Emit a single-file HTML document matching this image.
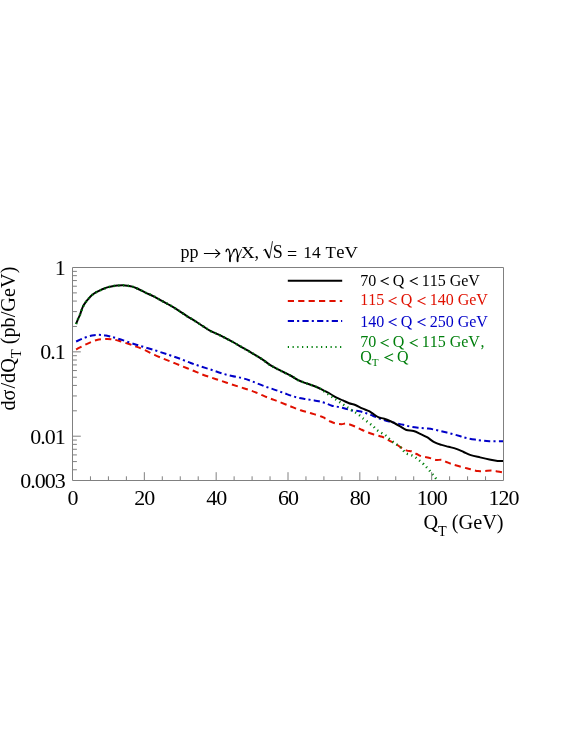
<!DOCTYPE html><html><head><meta charset="utf-8"><title>chart</title>
<style>html,body{margin:0;padding:0;background:#fff}svg{display:block;will-change:transform}text{font-family:"Liberation Serif",serif;font-kerning:none;}</style></head><body>
<svg width="581" height="752" viewBox="0 0 581 752">
<rect width="581" height="752" fill="#fff"/>
<clipPath id="c"><rect x="72.5" y="267.5" width="431.0" height="213.0"/></clipPath>
<g clip-path="url(#c)" fill="none" stroke-linejoin="round">
<path d="M76.10,349.50 C77.72,348.65 82.35,345.98 85.80,344.40 C89.25,342.82 93.37,340.92 96.80,340.00 C100.23,339.08 103.65,338.98 106.40,338.90 C109.15,338.82 111.00,339.12 113.30,339.50 C115.60,339.88 117.45,340.40 120.20,341.20 C122.95,342.00 127.00,343.35 129.80,344.30 C132.60,345.25 134.47,345.92 137.00,346.90 C139.53,347.88 142.08,348.88 145.00,350.20 C147.92,351.52 151.35,353.35 154.50,354.80 C157.65,356.25 160.75,357.58 163.90,358.90 C167.05,360.22 170.23,361.43 173.40,362.70 C176.57,363.97 179.75,365.23 182.90,366.50 C186.05,367.77 189.15,369.00 192.30,370.30 C195.45,371.60 198.63,373.08 201.80,374.30 C204.97,375.52 208.15,376.53 211.30,377.60 C214.45,378.67 217.55,379.65 220.70,380.70 C223.85,381.75 227.03,382.85 230.20,383.90 C233.37,384.95 236.55,386.00 239.70,387.00 C242.85,388.00 246.23,388.92 249.10,389.90 C251.97,390.88 254.45,391.90 256.90,392.90 C259.35,393.90 261.50,394.93 263.80,395.90 C266.10,396.87 268.42,397.82 270.70,398.70 C272.98,399.58 274.98,400.23 277.50,401.20 C280.02,402.17 283.67,403.67 285.80,404.50 C287.93,405.33 287.82,405.23 290.30,406.20 C292.78,407.17 297.25,409.13 300.70,410.30 C304.15,411.47 307.57,412.17 311.00,413.20 C314.43,414.23 318.97,415.65 321.30,416.50 C323.63,417.35 323.47,417.47 325.00,418.30 C326.53,419.13 328.67,420.62 330.50,421.50 C332.33,422.38 334.17,423.15 336.00,423.60 C337.83,424.05 339.88,424.20 341.50,424.20 C343.12,424.20 344.20,423.52 345.70,423.60 C347.20,423.68 348.90,424.20 350.50,424.70 C352.10,425.20 353.58,425.83 355.30,426.60 C357.02,427.37 358.97,428.43 360.80,429.30 C362.63,430.17 364.23,430.97 366.30,431.80 C368.37,432.63 370.90,433.57 373.20,434.30 C375.50,435.03 378.27,435.65 380.10,436.20 C381.93,436.75 382.60,436.83 384.20,437.60 C385.80,438.37 388.10,439.93 389.70,440.80 C391.30,441.67 392.40,442.02 393.80,442.80 C395.20,443.58 396.62,444.53 398.10,445.50 C399.58,446.47 401.23,447.75 402.70,448.60 C404.17,449.45 405.35,450.13 406.90,450.60 C408.45,451.07 410.37,450.83 412.00,451.40 C413.63,451.97 415.15,453.18 416.70,454.00 C418.25,454.82 419.67,455.75 421.30,456.30 C422.93,456.85 424.87,456.95 426.50,457.30 C428.13,457.65 429.47,457.97 431.10,458.40 C432.73,458.83 434.48,459.65 436.30,459.90 C438.12,460.15 440.28,459.55 442.00,459.90 C443.72,460.25 444.97,461.30 446.60,462.00 C448.23,462.70 449.83,463.43 451.80,464.10 C453.77,464.77 455.92,465.30 458.40,466.00 C460.88,466.70 464.47,467.70 466.70,468.30 C468.93,468.90 469.92,469.13 471.80,469.60 C473.68,470.07 475.93,470.85 478.00,471.10 C480.07,471.35 481.97,471.18 484.20,471.10 C486.43,471.02 489.17,470.55 491.40,470.60 C493.63,470.65 495.58,471.08 497.60,471.40 C499.62,471.72 502.52,472.32 503.50,472.50" stroke="#e01000" stroke-width="2" stroke-dasharray="6.2 4.2"/>
<path d="M76.10,341.50 C77.58,340.85 82.35,338.60 85.00,337.60 C87.65,336.60 89.80,335.97 92.00,335.50 C94.20,335.03 95.87,334.78 98.20,334.80 C100.53,334.82 102.82,335.00 106.00,335.60 C109.18,336.20 112.25,336.88 117.30,338.40 C122.35,339.92 129.98,342.70 136.30,344.70 C142.62,346.70 149.58,348.63 155.20,350.40 C160.82,352.17 165.82,353.88 170.00,355.30 C174.18,356.72 176.85,357.62 180.30,358.90 C183.75,360.18 187.25,361.73 190.70,363.00 C194.15,364.27 197.57,365.37 201.00,366.50 C204.43,367.63 207.87,368.67 211.30,369.80 C214.73,370.93 218.15,372.27 221.60,373.30 C225.05,374.33 228.55,375.20 232.00,376.00 C235.45,376.80 239.30,377.35 242.30,378.10 C245.30,378.85 247.57,379.63 250.00,380.50 C252.43,381.37 254.60,382.38 256.90,383.30 C259.20,384.22 261.50,385.15 263.80,386.00 C266.10,386.85 268.42,387.62 270.70,388.40 C272.98,389.18 275.22,389.90 277.50,390.70 C279.78,391.50 282.10,392.37 284.40,393.20 C286.70,394.03 289.00,394.95 291.30,395.70 C293.60,396.45 295.90,397.15 298.20,397.70 C300.50,398.25 302.80,398.60 305.10,399.00 C307.40,399.40 309.72,399.73 312.00,400.10 C314.28,400.47 316.63,400.72 318.80,401.20 C320.97,401.68 322.82,402.25 325.00,403.00 C327.18,403.75 329.60,405.03 331.90,405.70 C334.20,406.37 336.50,406.50 338.80,407.00 C341.10,407.50 343.42,408.12 345.70,408.70 C347.98,409.28 350.22,410.08 352.50,410.50 C354.78,410.92 357.10,410.75 359.40,411.20 C361.70,411.65 364.00,412.40 366.30,413.20 C368.60,414.00 370.90,415.08 373.20,416.00 C375.50,416.92 377.80,417.85 380.10,418.70 C382.40,419.55 384.52,420.40 387.00,421.10 C389.48,421.80 392.28,422.28 395.00,422.90 C397.72,423.52 400.55,424.13 403.30,424.80 C406.05,425.47 408.75,426.38 411.50,426.90 C414.25,427.42 417.05,427.62 419.80,427.90 C422.55,428.18 425.25,428.25 428.00,428.60 C430.75,428.95 433.53,429.43 436.30,430.00 C439.07,430.57 441.85,431.32 444.60,432.00 C447.35,432.68 450.15,433.38 452.80,434.10 C455.45,434.82 458.18,435.63 460.50,436.30 C462.82,436.97 464.30,437.55 466.70,438.10 C469.10,438.65 472.50,439.22 474.90,439.60 C477.30,439.98 478.68,440.13 481.10,440.40 C483.52,440.67 485.67,441.07 489.40,441.20 C493.13,441.33 501.15,441.20 503.50,441.20" stroke="#0000c8" stroke-width="2" stroke-dasharray="6.2 3.1 2.1 3.25"/>
<path d="M76.10,324.00 C76.38,323.27 77.17,321.08 77.80,319.60 C78.42,318.12 79.28,316.50 79.85,315.10 C80.42,313.70 80.68,312.62 81.20,311.20 C81.72,309.78 82.20,308.10 82.95,306.60 C83.70,305.10 84.73,303.57 85.70,302.20 C86.67,300.83 87.75,299.58 88.80,298.40 C89.85,297.22 90.82,296.10 92.00,295.10 C93.18,294.10 94.57,293.19 95.90,292.40 C97.23,291.61 98.60,291.00 100.00,290.35 C101.40,289.70 102.92,289.03 104.30,288.50 C105.68,287.97 106.72,287.58 108.30,287.15 C109.88,286.72 112.20,286.17 113.80,285.90 C115.40,285.62 116.42,285.60 117.90,285.50 C119.38,285.40 121.10,285.27 122.70,285.30 C124.30,285.33 125.88,285.48 127.50,285.70 C129.12,285.92 130.78,286.13 132.40,286.60 C134.02,287.07 135.03,287.50 137.20,288.50 C139.37,289.50 142.65,291.30 145.40,292.60 C148.15,293.90 150.93,294.92 153.70,296.30 C156.47,297.68 159.25,299.38 162.00,300.90 C164.75,302.42 167.48,303.83 170.20,305.40 C172.92,306.97 175.58,308.57 178.30,310.30 C181.02,312.03 183.75,314.03 186.50,315.80 C189.25,317.57 192.05,319.17 194.80,320.90 C197.55,322.63 200.48,324.58 203.00,326.20 C205.52,327.82 207.37,329.23 209.90,330.60 C212.43,331.97 215.43,333.07 218.20,334.40 C220.97,335.73 223.75,337.17 226.50,338.60 C229.25,340.03 231.95,341.45 234.70,343.00 C237.45,344.55 240.45,346.43 243.00,347.90 C245.55,349.37 247.68,350.45 250.00,351.80 C252.32,353.15 254.60,354.57 256.90,356.00 C259.20,357.43 261.50,358.83 263.80,360.40 C266.10,361.97 268.42,363.95 270.70,365.40 C272.98,366.85 275.22,367.92 277.50,369.10 C279.78,370.28 282.10,371.35 284.40,372.50 C286.70,373.65 289.00,374.73 291.30,376.00 C293.60,377.27 295.90,378.95 298.20,380.10 C300.50,381.25 302.80,382.05 305.10,382.90 C307.40,383.75 309.72,384.35 312.00,385.20 C314.28,386.05 316.73,387.07 318.80,388.00 C320.87,388.93 322.45,389.80 324.40,390.80 C326.35,391.80 328.57,392.90 330.50,394.00 C332.43,395.10 333.93,396.33 336.00,397.40 C338.07,398.47 340.72,399.43 342.90,400.40 C345.08,401.37 347.03,402.43 349.10,403.20 C351.17,403.97 353.12,404.13 355.30,405.00 C357.48,405.87 359.90,407.37 362.20,408.40 C364.50,409.43 367.27,410.28 369.10,411.20 C370.93,412.12 371.60,412.87 373.20,413.90 C374.80,414.93 376.87,416.60 378.70,417.40 C380.53,418.20 382.13,418.02 384.20,418.70 C386.27,419.38 389.30,420.70 391.10,421.50 C392.90,422.30 393.48,422.68 395.00,423.50 C396.52,424.32 398.30,425.32 400.20,426.40 C402.10,427.48 404.17,429.23 406.40,430.00 C408.63,430.77 411.20,430.32 413.60,431.00 C416.00,431.68 418.57,433.07 420.80,434.10 C423.03,435.13 424.77,435.87 427.00,437.20 C429.23,438.53 431.78,440.82 434.20,442.10 C436.62,443.38 439.08,444.12 441.50,444.90 C443.92,445.68 446.23,446.13 448.70,446.80 C451.17,447.47 453.82,448.03 456.30,448.90 C458.78,449.77 461.18,450.97 463.60,452.00 C466.02,453.03 468.05,454.20 470.80,455.10 C473.55,456.00 477.00,456.67 480.10,457.40 C483.20,458.13 486.48,458.90 489.40,459.50 C492.32,460.10 495.25,460.75 497.60,461.00 C499.95,461.25 502.52,461.00 503.50,461.00" stroke="#000" stroke-width="2"/>
<path d="M76.10,324.00 C76.38,323.27 77.17,321.08 77.80,319.60 C78.42,318.12 79.28,316.50 79.85,315.10 C80.42,313.70 80.68,312.62 81.20,311.20 C81.72,309.78 82.20,308.10 82.95,306.60 C83.70,305.10 84.73,303.57 85.70,302.20 C86.67,300.83 87.75,299.58 88.80,298.40 C89.85,297.22 90.82,296.10 92.00,295.10 C93.18,294.10 94.57,293.19 95.90,292.40 C97.23,291.61 98.60,291.00 100.00,290.35 C101.40,289.70 102.92,289.03 104.30,288.50 C105.68,287.97 106.72,287.58 108.30,287.15 C109.88,286.72 112.20,286.17 113.80,285.90 C115.40,285.62 116.42,285.60 117.90,285.50 C119.38,285.40 121.10,285.27 122.70,285.30 C124.30,285.33 125.88,285.48 127.50,285.70 C129.12,285.92 130.78,286.13 132.40,286.60 C134.02,287.07 135.03,287.50 137.20,288.50 C139.37,289.50 142.65,291.30 145.40,292.60 C148.15,293.90 150.93,294.92 153.70,296.30 C156.47,297.68 159.25,299.38 162.00,300.90 C164.75,302.42 167.48,303.83 170.20,305.40 C172.92,306.97 175.58,308.57 178.30,310.30 C181.02,312.03 183.75,314.03 186.50,315.80 C189.25,317.57 192.05,319.17 194.80,320.90 C197.55,322.63 200.48,324.58 203.00,326.20 C205.52,327.82 207.37,329.23 209.90,330.60 C212.43,331.97 215.43,333.07 218.20,334.40 C220.97,335.73 223.75,337.17 226.50,338.60 C229.25,340.03 231.95,341.45 234.70,343.00 C237.45,344.55 240.45,346.43 243.00,347.90 C245.55,349.37 247.68,350.45 250.00,351.80 C252.32,353.15 254.60,354.57 256.90,356.00 C259.20,357.43 261.50,358.83 263.80,360.40 C266.10,361.97 268.42,363.95 270.70,365.40 C272.98,366.85 275.22,367.92 277.50,369.10 C279.78,370.28 282.10,371.35 284.40,372.50 C286.70,373.65 289.00,374.73 291.30,376.00 C293.60,377.27 295.90,378.95 298.20,380.10 C300.50,381.25 302.80,382.05 305.10,382.90 C307.40,383.75 309.72,384.35 312.00,385.20 C314.28,386.05 316.97,387.10 318.80,388.00 C320.63,388.90 321.62,389.68 323.00,390.60 C324.38,391.52 325.73,392.55 327.10,393.50 C328.47,394.45 329.90,395.42 331.20,396.30 C332.50,397.18 333.63,397.93 334.90,398.80 C336.17,399.67 337.47,400.58 338.80,401.50 C340.13,402.42 341.53,403.38 342.90,404.30 C344.27,405.22 345.67,406.08 347.00,407.00 C348.33,407.92 349.63,408.98 350.90,409.80 C352.17,410.62 353.30,411.10 354.60,411.90 C355.90,412.70 357.43,413.62 358.70,414.60 C359.97,415.58 361.00,416.82 362.20,417.80 C363.40,418.78 364.63,419.53 365.90,420.50 C367.17,421.47 368.58,422.63 369.80,423.60 C371.02,424.57 372.07,425.27 373.20,426.30 C374.33,427.33 375.33,428.77 376.60,429.80 C377.87,430.83 379.42,431.67 380.80,432.50 C382.18,433.33 383.65,433.88 384.90,434.80 C386.15,435.72 387.03,436.88 388.30,438.00 C389.57,439.12 391.23,440.52 392.50,441.50 C393.77,442.48 394.72,443.07 395.90,443.90 C397.08,444.73 398.47,445.55 399.60,446.50 C400.73,447.45 401.67,448.48 402.70,449.60 C403.73,450.72 404.53,452.33 405.80,453.20 C407.07,454.07 408.83,454.20 410.30,454.80 C411.77,455.40 413.28,456.00 414.60,456.80 C415.92,457.60 416.95,458.62 418.20,459.60 C419.45,460.58 420.88,461.62 422.10,462.70 C423.32,463.78 424.42,464.97 425.50,466.10 C426.58,467.23 427.57,468.30 428.60,469.50 C429.63,470.70 430.67,472.05 431.70,473.30 C432.73,474.55 433.83,475.80 434.80,477.00 C435.77,478.20 437.05,479.92 437.50,480.50" stroke="#007f0c" stroke-width="2.5" stroke-dasharray="1.2 3.55"/>
</g>
<g stroke="#808080" stroke-width="1" fill="none" stroke-linejoin="round">
<rect x="72.5" y="267.5" width="431.0" height="213.0"/>
<path d="M90.46,480.5 v-4.2 M108.42,480.5 v-4.2 M126.38,480.5 v-4.2 M144.33,480.5 v-8.3 M162.29,480.5 v-4.2 M180.25,480.5 v-4.2 M198.21,480.5 v-4.2 M216.17,480.5 v-8.3 M234.12,480.5 v-4.2 M252.08,480.5 v-4.2 M270.04,480.5 v-4.2 M288.00,480.5 v-8.3 M305.96,480.5 v-4.2 M323.92,480.5 v-4.2 M341.88,480.5 v-4.2 M359.83,480.5 v-8.3 M377.79,480.5 v-4.2 M395.75,480.5 v-4.2 M413.71,480.5 v-4.2 M431.67,480.5 v-8.3 M449.62,480.5 v-4.2 M467.58,480.5 v-4.2 M485.54,480.5 v-4.2 M72.5,351.85 h8.3 M72.5,326.46 h4.4 M72.5,311.60 h4.4 M72.5,301.07 h4.4 M72.5,292.89 h4.4 M72.5,286.21 h4.4 M72.5,280.57 h4.4 M72.5,275.67 h4.4 M72.5,271.36 h4.4 M72.5,436.20 h8.3 M72.5,410.81 h4.4 M72.5,395.95 h4.4 M72.5,385.42 h4.4 M72.5,377.24 h4.4 M72.5,370.56 h4.4 M72.5,364.92 h4.4 M72.5,360.02 h4.4 M72.5,355.71 h4.4 M72.5,469.77 h4.4 M72.5,461.59 h4.4 M72.5,454.91 h4.4 M72.5,449.27 h4.4 M72.5,444.37 h4.4 M72.5,440.06 h4.4"/>
</g>
<g font-size="22" fill="#000" letter-spacing="-1.0">
<text x="72.50" y="504.7" text-anchor="middle">0</text>
<text x="144.33" y="504.7" text-anchor="middle">20</text>
<text x="216.17" y="504.7" text-anchor="middle">40</text>
<text x="288.00" y="504.7" text-anchor="middle">60</text>
<text x="359.83" y="504.7" text-anchor="middle">80</text>
<text x="431.67" y="504.7" text-anchor="middle">100</text>
<text x="503.50" y="504.7" text-anchor="middle">120</text>
<text x="64.7" y="274.90" text-anchor="end">1</text>
<text x="64.7" y="359.25" text-anchor="end">0.1</text>
<text x="64.7" y="443.60" text-anchor="end">0.01</text>
<text x="64.7" y="487.70" text-anchor="end">0.003</text>
</g>
<text x="503.6" y="529.2" font-size="20.3" text-anchor="end">Q<tspan font-size="14.21" dy="7.2">T</tspan><tspan dy="-7.2"> (GeV)</tspan></text>
<text transform="translate(15,410.6) rotate(-90)" font-size="20.3">dσ<tspan dx="1.0">/</tspan>dQ<tspan font-size="14.21" dy="6">T</tspan><tspan dy="-6"> (pb/GeV)</tspan></text>
<text transform="translate(180.46,258.40) scale(1,1)" font-size="18">pp</text>
<text transform="translate(241.08,258.40) scale(1.05,0.96)" font-size="18">X</text>
<text transform="translate(254.51,258.40) scale(1,1)" font-size="18">,</text>
<text transform="translate(272.80,258.40) scale(1,1)" font-size="18">S</text>
<text transform="translate(287.10,260.20) scale(1,1)" font-size="18">=</text>
<text transform="translate(303.37,258.40) scale(0.97,0.95)" font-size="18">14</text>
<text transform="translate(325.54,258.40) scale(0.94,0.95)" font-size="18">T</text>
<text transform="translate(336.18,258.40) scale(1.03,1)" font-size="18">e</text>
<text transform="translate(344.59,258.40) scale(1.03,0.95)" font-size="18">V</text>
<path d="M226.15,251.6 C226.20,249.7 227.30,248.6 228.40,249.3 C229.30,250.0 229.70,252.6 230.30,256.8" fill="none" stroke="#000" stroke-width="1.3" stroke-linecap="round"/><path d="M230.25,256.2 C229.90,258.2 229.80,259.8 230.00,261.2" fill="none" stroke="#000" stroke-width="1.9" stroke-linecap="round"/><path d="M230.50,257.4 L234.10,249.2" fill="none" stroke="#000" stroke-width="0.85"/>
<path d="M233.75,251.6 C233.80,249.7 234.90,248.6 236.00,249.3 C236.90,250.0 237.30,252.6 237.90,256.8" fill="none" stroke="#000" stroke-width="1.3" stroke-linecap="round"/><path d="M237.85,256.2 C237.50,258.2 237.40,259.8 237.60,261.2" fill="none" stroke="#000" stroke-width="1.9" stroke-linecap="round"/><path d="M238.10,257.4 L241.70,249.2" fill="none" stroke="#000" stroke-width="0.85"/>
<path d="M263.2,250.5 L265.1,249.3" fill="none" stroke="#000" stroke-width="0.8"/><path d="M265.0,249.2 L269.3,258.0" fill="none" stroke="#000" stroke-width="1.7"/><path d="M269.4,258.4 L272.5,241.2" fill="none" stroke="#000" stroke-width="0.8"/>
<path d="M203.9,253.5 H219.3 M215.4,249.3 L219.8,253.5 L215.4,257.7" fill="none" stroke="#000" stroke-width="1.1" stroke-linejoin="miter"/>
<g fill="none" stroke-width="2">
<path d="M287.8,280.8 H342.2" stroke="#000"/>
<path d="M287.8,300.9 H342.2" stroke="#e01000" stroke-dasharray="6.2 4.2"/>
<path d="M287.8,321.05 H342.2" stroke="#0000c8" stroke-dasharray="6.2 3.1 2.1 3.25"/>
<path d="M287.8,347.1 H342.2" stroke="#007f0c" stroke-dasharray="1.2 3.55"/>
</g>
<g font-size="16">
<text x="360.3" y="285.6" fill="#000">70 <tspan dx="-1.8" visibility="hidden">&lt;</tspan><tspan dx="1.1"> Q </tspan><tspan dx="-0.2" visibility="hidden">&lt;</tspan><tspan dx="0.6"> 115 GeV</tspan></text>
<text x="360.3" y="305.4" fill="#e01000">115 <tspan dx="-1.8" visibility="hidden">&lt;</tspan><tspan dx="1.1"> Q </tspan><tspan dx="-0.2" visibility="hidden">&lt;</tspan><tspan dx="0.6"> 140 GeV</tspan></text>
<text x="360.3" y="326.6" fill="#0000c8">140 <tspan dx="-1.8" visibility="hidden">&lt;</tspan><tspan dx="1.1"> Q </tspan><tspan dx="-0.2" visibility="hidden">&lt;</tspan><tspan dx="0.6"> 250 GeV</tspan></text>
<text x="360.3" y="347.3" fill="#007f0c">70 <tspan dx="-1.8" visibility="hidden">&lt;</tspan><tspan dx="1.1"> Q </tspan><tspan dx="-0.2" visibility="hidden">&lt;</tspan><tspan dx="0.6"> 115 GeV</tspan><tspan dx="0.6">,</tspan></text>
<text x="360.3" y="362" fill="#007f0c">Q<tspan font-size="11.20" dy="3.5">T</tspan><tspan dy="-3.5" dx="-1.2" visibility="hidden"> &lt;</tspan><tspan dx="2.4"> Q</tspan></text>
</g>
<path d="M388.7,277.45000000000005 L381.2,281.1 L388.7,284.75" fill="none" stroke="#000" stroke-width="1.05" stroke-linejoin="miter"/>
<path d="M417.7,277.45000000000005 L410.4,281.1 L417.7,284.75" fill="none" stroke="#000" stroke-width="1.05" stroke-linejoin="miter"/>
<path d="M396.55,297.25 L389.2,300.9 L396.55,304.54999999999995" fill="none" stroke="#e01000" stroke-width="1.05" stroke-linejoin="miter"/>
<path d="M425.5,297.25 L418.09999999999997,300.9 L425.5,304.54999999999995" fill="none" stroke="#e01000" stroke-width="1.05" stroke-linejoin="miter"/>
<path d="M396.55,318.45000000000005 L389.2,322.1 L396.55,325.75" fill="none" stroke="#0000c8" stroke-width="1.05" stroke-linejoin="miter"/>
<path d="M425.5,318.45000000000005 L418.09999999999997,322.1 L425.5,325.75" fill="none" stroke="#0000c8" stroke-width="1.05" stroke-linejoin="miter"/>
<path d="M388.7,339.15000000000003 L381.2,342.8 L388.7,346.45" fill="none" stroke="#007f0c" stroke-width="1.05" stroke-linejoin="miter"/>
<path d="M417.7,339.15000000000003 L410.4,342.8 L417.7,346.45" fill="none" stroke="#007f0c" stroke-width="1.05" stroke-linejoin="miter"/>
<path d="M393.1,353.85 L385.09999999999997,357.5 L393.1,361.15" fill="none" stroke="#007f0c" stroke-width="1.05" stroke-linejoin="miter"/>
</svg></body></html>
